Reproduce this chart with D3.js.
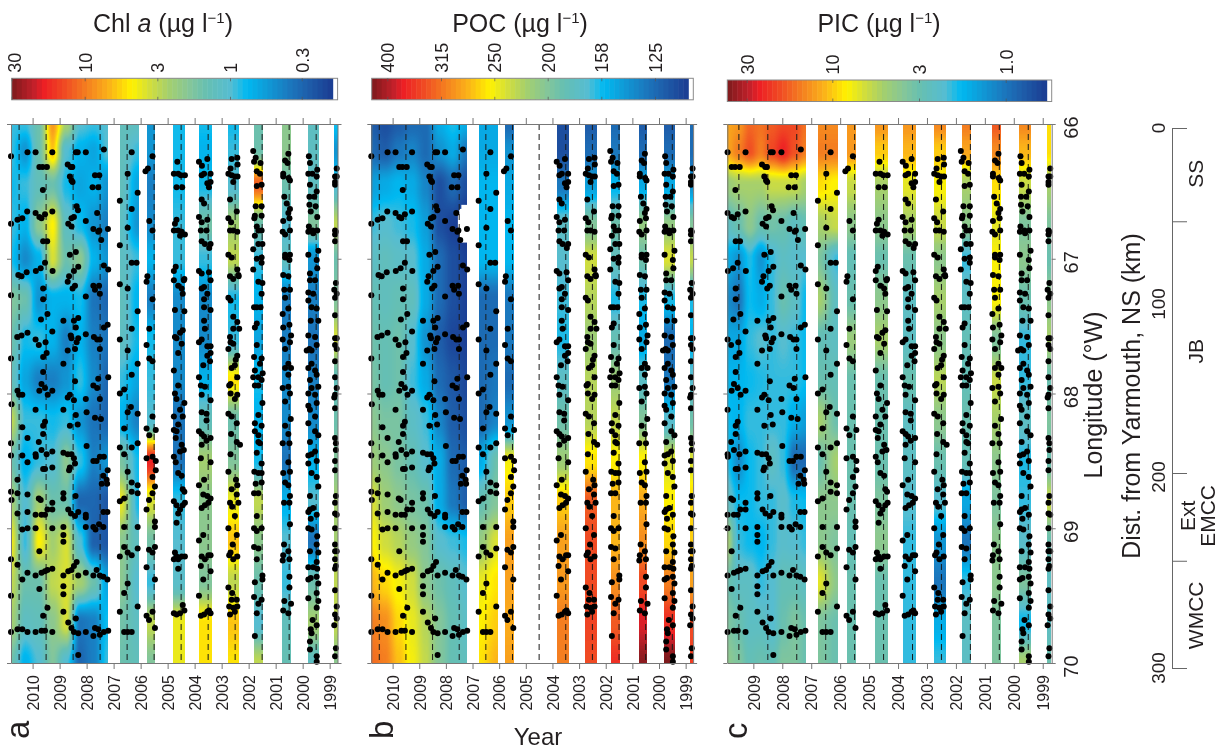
<!DOCTYPE html>
<html>
<head>
<meta charset="utf-8">
<script src="https://cdn.jsdelivr.net/npm/d3@7"></script>
<style>
body { margin: 0; background: #fff; }
#wrap { position: relative; width: 1224px; height: 753px; overflow: hidden; }
canvas, svg { position: absolute; left: 0; top: 0; }
text { font-family: "Liberation Sans", Arial, sans-serif; fill: #231f20; }
</style>
</head>
<body>
<div id="wrap"></div>
<script>
// cruise blocks, in decimal years (reversed time axis)
const cruiseStart = [2010.8, 2006.76, 2005.77, 2004.8, 2003.84, 2002.76, 2001.8, 2000.76, 1999.81, 1998.85]
const cruiseEnd = [2007.19, 2006.06, 2005.45, 2004.34, 2003.37, 2002.34, 2001.47, 2000.44, 1999.39, 1998.71]
const yearTicks = [2010, 2009, 2008, 2007, 2006, 2005, 2004, 2003, 2002, 2001, 2000, 1999]
const dashYears = [2010.5, 2009.5, 2008.5, 2007.5, 2006.5, 2005.5, 2004.5, 2003.5, 2002.5, 2001.5, 2000.5, 1999.5]
const lonTicks = [66, 67, 68, 69, 70]
const lonNodes = [66, 66.2, 66.45, 66.75, 67, 67.3, 67.6, 67.9, 68.2, 68.5, 68.8, 69.1, 69.4, 69.7, 70]

// colour bar
const paletteStops = [0, .07, .10, .17, .23, .30, .374, .43, .49, .555, .607, .68, .732, .795, .857, .92, 1]
const paletteColors = ['#7d1a1c', '#c4202a', '#ed1f24', '#f04e23', '#f47d20', '#fbb01a', '#fff200', '#d2de3b', '#a3cf6f', '#84c69a', '#66bfb2', '#56bdd1', '#00b9f1', '#0f9bd7', '#1a7cc1', '#1e5fab', '#1b3b92']

const chlTicks = [30, 10, 3, 1, 0.3]
const chlTickLabels = ['30', '10', '3', '1', '0.3']
const pocTicks = [400, 315, 250, 200, 158, 125]
const pocTickLabels = ['400', '315', '250', '200', '158', '125']
const picTicks = [30, 10, 3, 1]
const picTickLabels = ['30', '10', '3', '1.0']

// concentration along lonNodes; each cruise holds one or more columns spaced evenly across it
const chlField = [
  [[.9,.9,.8,.9,.8,1.8,1.5,1.3,3,1.5,2.5,4,3,2.5,1.5],
   [.9,.5,.9,.7,.45,1.5,.8,.6,.9,.7,1,.9,1.5,1.2,.7],
   [1.5,1.5,1.3,2,.7,.5,.9,.4,.9,.9,2.5,4.5,1.5,1.3,1],
   [8,6,1.5,4.5,3.5,.7,.7,.4,.8,1,1.5,2.5,3,2,1.8],
   [2.5,1,.8,1.2,1.5,.7,.4,.5,.9,2,1.5,3.5,3.5,3.5,1],
   [1,.7,.6,.8,2,.8,.7,.9,.5,.9,.3,1,2.5,.35,.3],
   [.9,.6,.7,.5,.7,.35,.4,.45,.35,.4,.3,.28,1.5,.4,.4],
   [1,1,.5,.4,.5,.3,.35,.3,.3,.5,.25,.25,.6,.8,.9]],
  [[1.3,1.3,1.3,1.2,1.2,1.3,1.2,.9,.7,1.7,4,2,2,1.6,1.5],
   [1.2,.9,.6,.5,.9,.7,.8,.6,.4,.8,.8,1.2,1,1.2,1.3]],
  [[.5,.5,.4,.45,.7,.4,.8,.9,1,18,3.5,1.6,.9,3,1.8]],
  [[.8,.8,.8,.9,.9,.45,.45,.45,.35,.35,.9,1,1.1,4,4]],
  [[.8,.7,.8,1.6,.9,.45,.45,.7,1.3,2.5,2,2,1.8,5,5]],
  [[.8,.9,1,2.5,3,.8,.9,5,1.5,1.8,4,6,3,6,5]],
  [[1.5,1.5,12,1.5,.9,.7,.6,.8,.7,.8,3,2,1.5,1,3]],
  [[2,2,1.5,1,1.2,.4,.4,.45,.45,.35,.7,1,.9,1.3,1.4]],
  [[1.2,1.2,1.2,1.8,.5,.4,.35,.4,.45,.7,1,.35,1.5,2.5,1.2]],
  [[.8,.5,1,3,1.5,1.8,3.5,1.3,1.5,1.8,2.5,2.5,3,3,2]]
]
const pocField = [
  [[120,125,145,165,175,185,190,195,205,215,240,255,280,310,320],
   [115,120,150,170,180,180,185,185,195,205,215,235,265,300,310],
   [120,130,155,165,175,185,190,190,195,195,205,225,250,265,275],
   [125,135,150,160,170,180,170,165,175,185,195,210,235,245,250],
   [125,125,135,145,150,150,140,150,165,170,190,200,205,225,230],
   [150,140,115,115,125,125,120,125,135,150,150,170,190,200,200],
   [160,150,125,110,115,115,112,118,120,125,130,165,180,185,185],
   [150,130,115,105,110,110,110,112,115,120,120,160,170,175,180]],
  [[150,150,155,155,155,125,125,125,125,150,185,210,245,255,260],
   [150,150,155,155,155,125,125,130,135,190,200,240,260,270,280]],
  [[125,140,150,155,155,130,130,125,140,250,270,290,290,285,290]],
  null,
  [[115,115,130,175,170,165,160,175,190,215,270,290,295,310,310]],
  [[120,125,145,200,235,225,215,225,225,260,330,340,340,345,340]],
  [[125,130,155,190,180,160,185,215,230,255,280,280,300,330,360]],
  [[120,125,150,210,190,160,150,175,200,255,285,300,340,380,420]],
  [[120,125,150,210,240,160,125,130,170,240,255,265,310,360,430]],
  [[125,125,140,200,230,160,155,170,190,240,265,270,290,340,350]]
]
const picField = [
  [[12,12,4.5,2.5,1.6,1.2,1.5,1.7,1.8,1.9,2.5,5,3,3.5,4],
   [13,15,5,3,1.3,1,1.5,1.7,1.7,1.2,1.8,2,2.5,3,3.5],
   [17,19,5,4,1.9,1.8,2,1.8,2,1.8,1.8,1.8,2.5,2.5,2.8],
   [16,15,5,3,1.3,1.6,2.2,1.9,2,2,2,1.7,2,2.5,3],
   [18,20,6,3.2,2,2,2,2,2,2.5,2,2,2.2,2.2,2.8],
   [20,25,6,3,2.5,3,2.2,2,2,2,2.3,2.3,2.8,3,3.5],
   [20,19,6,2.5,2.3,2.5,2,2,1.6,.9,1.9,2.2,2.8,3.5,3.5],
   [16,15,5,2.8,2.2,1.8,1.8,1.8,1.4,.9,1.8,2,2.5,3,3]],
  [[14,15,9,5,3.5,5,2.8,3,5,3,4,4,7,3.5,3.5],
   [14,15,8,6,2,2.5,2.5,2.8,3,5,4,3.5,4,3,3]],
  [[13,13,6,4,2.8,3,4.5,3,3,3,3,2.8,3,3,3]],
  [[13,10,5,4,3,4,5,3,3,3,3.5,4,3,3,3]],
  [[13,11,7,5,3,2.5,2.5,3,2.5,2.5,2.2,2,2,2,2]],
  [[14,10,8,6,4,5,4,5.5,4,3,2.2,1.3,1,1.6,2]],
  [[15,12,5,4,2,2.5,2.8,2.8,3,2.8,1.5,1,2,2.5,2.5]],
  [[18,14,9,7,8,8,3.5,6,5,4,3.5,4,4,3.5,3.5]],
  [[14,11,6,3.5,4,3,2,2,2.5,1.9,2,2.3,3.5,1.8,5]],
  [[9,9,5,3.5,3,4,5,3,3.5,3,6,3,2.5,2.5,3]]
]
// patch of the POC section with no data: [yearFrom, yearTo, lonFrom, lonTo]
const pocGaps = [[2007.55, 2007.2, 66.67, 66.8], [2007.42, 2007.2, 66.6, 66.88], [2007.5, 2007.3, 66.63, 66.85]]

// stations as flat pairs: years after the base year, longitude
const stationsFrom2007 = [3.80,66.24,3.19,66.21,2.89,66.21,2.27,66.21,1.40,66.21,1.33,66.21,1.03,66.21,.36,66.19,2.75,66.32,2.63,66.32,2.47,66.32,1.70,66.30,1.59,66.32,1.53,66.32,1.62,66.39,1.56,66.42,1.52,66.43,.69,66.38,.53,66.38,.78,66.47,.57,66.47,2.62,66.49,1.37,66.61,1.32,66.64,.61,66.66,3.20,66.65,2.89,66.66,2.75,66.69,2.67,66.70,2.54,66.67,2.27,66.65,3.38,66.70,3.56,66.71,3.80,66.74,1.56,66.70,1.47,66.69,1.68,66.74,1.56,66.76,1.03,66.72,.75,66.78,.53,66.79,.21,66.78,.57,66.80,.46,66.86,2.61,66.87,2.46,66.87,1.40,66.95,1.62,66.97,2.54,67.03,1.31,67.06,1.47,67.09,2.88,67.09,2.70,67.07,3.22,67.10,3.53,67.12,3.41,67.13,1.65,67.13,.36,67.05,.20,67.08,2.26,67.09,
1.70,67.17,1.43,67.20,1.52,67.22,.75,67.20,.54,67.20,.69,67.23,.51,67.26,2.61,67.22,2.61,67.30,1.03,67.28,3.80,67.27,2.45,67.41,2.69,67.45,1.86,67.46,1.31,67.44,1.47,67.46,1.40,67.51,.22,67.49,.36,67.51,2.27,67.54,1.59,67.57,1.56,67.59,1.03,67.56,3.57,67.58,3.41,67.57,3.19,67.55,2.89,67.60,2.77,67.64,2.52,67.62,1.31,67.59,1.37,67.62,1.43,67.67,1.70,67.68,.73,67.58,.61,67.60,.51,67.60,.51,67.67,2.48,67.70,2.61,67.73,1.86,67.78,3.80,67.74,2.61,67.84,2.67,67.93,1.43,67.91,.57,67.89,.20,67.88,.75,67.94,.61,67.96,3.56,67.98,2.75,67.98,2.54,67.96,2.27,67.98,2.44,68.01,3.50,68.01,3.38,68.01,1.62,68.01,1.70,68.03,1.47,68.05,1.03,68.04,.51,68.04,3.78,68.08,2.89,68.12,1.86,68.12,1.00,68.14,1.40,68.16,.69,68.18,.47,68.19,2.54,68.21,2.61,68.24,1.62,68.24,1.33,68.23,2.61,68.30,3.38,68.25,3.19,68.33,2.77,68.36,3.80,68.37,2.67,68.42,2.89,68.45,2.27,68.43,1.86,68.44,2.48,68.45,3.38,68.46,3.80,68.46,1.70,68.45,1.56,68.45,1.47,68.48,3.19,68.51,2.88,68.47,1.00,68.39,.75,68.50,.63,68.50,.51,68.47,.36,68.47,1.43,68.52,1.62,68.55,1.65,68.57,2.61,68.56,2.54,68.56,2.27,68.55,.22,68.57,.38,68.61,.26,68.64,3.56,68.64,.44,68.67,.24,68.67,
3.80,68.73,3.56,68.74,3.78,68.79,3.19,68.75,2.77,68.78,2.70,68.79,2.27,68.81,1.86,68.74,1.86,68.78,1.41,68.76,3.56,68.89,3.19,68.88,2.89,68.90,2.67,68.90,2.54,68.90,2.45,68.86,2.27,68.86,1.68,68.86,1.58,68.89,1.43,68.91,1.31,68.88,1.03,68.90,1.03,68.92,.23,68.88,.38,68.88,3.38,69.01,3.19,69.00,2.89,69.00,2.27,69.00,1.86,68.99,1.86,69.05,1.86,69.10,.75,68.99,.67,69.01,.54,68.97,1.03,68.99,.38,68.99,2.75,69.17,3.80,69.23,3.56,69.27,3.19,69.33,2.89,69.35,2.67,69.33,2.54,69.32,2.45,69.31,2.27,69.30,1.86,69.35,1.68,69.32,1.56,69.31,1.47,69.28,1.37,69.25,1.31,69.35,1.03,69.33,.75,69.35,.63,69.31,.51,69.35,.38,69.36,.23,69.38,3.38,69.38,2.75,69.45,1.86,69.43,1.86,69.49,3.80,69.50,2.45,69.59,1.86,69.62,2.61,69.65,1.40,69.67,1.68,69.70,1.56,69.74,1.47,69.77,1.31,69.78,3.80,69.77,3.56,69.75,3.38,69.75,3.19,69.77,2.89,69.77,2.67,69.76,2.54,69.76,2.27,69.77,1.03,69.77,.69,69.74,.57,69.75,.51,69.79,.36,69.77,.20,69.76,.75,69.80,1.31,69.94]
const stationsFrom2006 = [.33,66.21,.48,66.37,.11,66.51,.77,66.57,.33,66.63,.48,66.77,.77,66.90,.33,67.03,.15,67.03,.77,67.19,.48,67.22,.11,67.39,.33,67.52,.77,67.60,.48,67.68,.11,67.78,.33,67.86,.61,67.97,.77,68.00,.36,68.10,.48,68.14,.11,68.15,.61,68.26,.11,68.37,.33,68.40,.77,68.40,.61,68.45,.48,68.58,.33,68.66,.11,68.68,.77,68.80,.61,68.78,.33,68.73,.11,68.74,.11,68.99,.61,68.99,.61,69.14,.11,69.15,.77,69.21,.48,69.18,.33,69.20,.48,69.41,.61,69.48,.11,69.58,.77,69.62,.61,69.77,.48,69.77,.33,69.77]
const stationsFrom2005 = [.56,66.24,.82,66.35,.73,66.33,.68,66.72,.56,66.79,.75,67.13,.78,67.17,.56,67.30,.68,67.52,.78,67.64,.68,67.74,.56,67.76,.56,68.17,.78,68.26,.44,68.27,.68,68.31,.56,68.47,.78,68.48,.44,68.50,.44,68.57,.56,68.62,.56,68.74,.47,68.69,.69,68.79,.78,68.86,.47,68.95,.47,68.99,.69,69.16,.56,69.18,.47,69.14,.78,69.29,.47,69.38,.78,69.65,.69,69.68,.56,69.62,.47,69.74]
const stationsFrom2004 = [.64,66.28,.77,66.37,.61,66.37,.51,66.38,.36,66.38,.67,66.47,.46,66.47,.67,66.71,.73,66.74,.77,66.79,.61,66.79,.48,66.80,.36,66.82,.54,66.83,.70,67.06,.77,67.09,.38,67.15,.77,67.16,.40,67.16,.61,67.20,.48,67.22,.44,67.26,.73,67.38,.38,67.39,.44,67.53,.54,67.55,.73,67.58,.67,67.59,.48,67.63,.61,67.70,.77,67.83,.61,67.94,.73,68.00,.67,68.04,.38,68.07,.77,68.17,.54,68.12,.44,68.17,.61,68.23,.77,68.27,.67,68.28,.70,68.33,.48,68.38,.54,68.43,.40,68.42,.77,68.47,.70,68.51,.61,68.59,.48,68.61,.77,68.80,.67,68.83,.44,68.83,.36,68.81,.54,68.86,.61,68.89,.38,68.73,.44,68.71,.67,68.96,.73,69.18,.67,69.21,.77,69.23,.61,69.23,.48,69.21,.36,69.21,.61,69.30,.77,69.63,.67,69.64,.54,69.63,.38,69.61,.44,69.57]
const stationsFrom2003 = [.84,66.28,.53,66.26,.73,66.31,.65,66.37,.74,66.38,.41,66.37,.53,66.44,.41,66.43,.47,66.47,.74,66.56,.65,66.59,.84,66.69,.53,66.71,.74,66.73,.77,66.79,.56,66.79,.74,66.87,.62,66.89,.41,66.89,.46,66.92,.84,67.09,.74,67.11,.47,67.10,.41,67.16,.65,67.21,.74,67.22,.53,67.26,.65,67.30,.65,67.36,.41,67.38,.65,67.46,.62,67.52,.84,67.62,.74,67.60,.53,67.65,.41,67.65,.53,67.72,.41,67.70,.43,67.76,.68,67.79,.84,67.88,.77,67.94,.62,67.95,.74,68.01,.41,68.05,.74,68.14,.56,68.15,.56,68.20,.84,68.28,.74,68.30,.65,68.32,.41,68.33,.56,68.35,.74,68.38,.77,68.48,.41,68.51,.65,68.64,.84,68.68,.68,68.75,.53,68.76,.41,68.78,.74,68.85,.62,68.83,.49,68.81,.84,69.09,.68,69.05,.74,69.21,.62,69.23,.49,69.20,.41,69.20,.77,69.28,.41,69.32,.68,69.38,.84,69.50,.77,69.65,.65,69.64,.53,69.62,.41,69.63,.47,69.61]
const stationsFrom2002 = [.63,66.26,.42,66.25,.41,66.30,.67,66.33,.75,66.37,.63,66.38,.51,66.39,.41,66.39,.57,66.43,.69,66.56,.44,66.65,.75,66.70,.65,66.73,.69,66.79,.57,66.79,.42,66.80,.75,66.97,.63,66.99,.42,67.08,.69,67.13,.38,67.12,.57,67.15,.37,67.13,.75,67.29,.67,67.31,.57,67.43,.42,67.47,.57,67.52,.35,67.52,.69,67.58,.67,67.62,.57,67.63,.75,67.67,.42,67.72,.48,67.75,.51,67.79,.63,67.81,.42,67.88,.67,67.93,.72,67.94,.67,68.00,.42,68.01,.51,68.04,.75,68.15,.63,68.17,.44,68.22,.65,68.30,.32,68.38,.44,68.36,.67,68.45,.75,68.58,.47,68.64,.42,68.68,.63,68.71,.44,68.75,.69,68.81,.38,68.81,.61,68.84,.51,68.91,.75,69.00,.44,69.05,.59,69.12,.72,69.20,.57,69.23,.42,69.21,.67,69.18,.75,69.44,.61,69.48,.44,69.53,.63,69.53,.72,69.58,.57,69.59,.42,69.58,.69,69.64,.51,69.62]
const stationsFrom2001 = [.83,66.20,.74,66.25,.80,66.28,.56,66.29,.70,66.35,.58,66.37,.52,66.45,.70,66.46,.74,66.61,.52,66.61,.77,66.68,.52,66.68,.79,66.70,.70,66.76,.52,66.79,.64,66.79,.77,66.83,.64,66.89,.49,66.89,.83,66.93,.70,67.00,.52,66.99,.52,67.03,.83,67.08,.64,67.17,.49,67.18,.52,67.26,.80,67.36,.70,67.36,.56,67.36,.77,67.51,.70,67.48,.70,67.64,.80,67.73,.52,67.74,.58,67.78,.77,67.83,.48,67.85,.64,67.88,.83,67.88,.52,67.90,.64,67.94,.77,67.94,.49,68.07,.64,68.16,.77,68.22,.52,68.24,.77,68.28,.64,68.31,.64,68.36,.58,68.37,.70,68.44,.52,68.52,.52,68.59,.79,68.58,.64,68.59,.74,68.67,.52,68.66,.64,68.74,.80,68.74,.70,68.91,.80,69.00,.52,69.00,.70,69.02,.80,69.14,.64,69.15,.70,69.23,.49,69.35,.49,69.38,.77,69.40,.80,69.51,.52,69.53,.64,69.56,.70,69.63,.77,69.80]
const stationsFrom2000 = [.53,66.22,.65,66.27,.56,66.29,.72,66.37,.72,66.39,.52,66.40,.47,66.42,.68,66.54,.59,66.59,.47,66.63,.53,66.66,.72,66.72,.49,66.70,.74,66.80,.65,66.82,.47,66.79,.65,66.97,.47,66.97,.49,67.01,.65,66.99,.72,67.12,.53,67.13,.68,67.23,.47,67.23,.65,67.29,.74,67.41,.53,67.37,.72,67.51,.49,67.49,.43,67.57,.74,67.60,.47,67.62,.65,67.67,.53,67.78,.65,67.81,.43,67.81,.53,67.86,.74,67.96,.53,67.95,.47,68.00,.65,68.06,.44,68.19,.65,68.24,.74,68.37,.53,68.30,.49,68.37,.53,68.51,.47,68.58,.72,68.59,.65,68.66,.53,68.68,.47,68.76,.69,68.81,.49,68.81,.47,68.97,.69,69.12,.72,69.20,.53,69.17,.49,69.23,.74,69.24,.49,69.36,.49,69.44,.68,69.54,.43,69.56,.72,69.61,.53,69.63]
const stationsFrom1999 = [.77,66.24,.73,66.29,.79,66.37,.64,66.37,.46,66.34,.48,66.39,.73,66.45,.48,66.50,.75,66.54,.57,66.54,.75,66.60,.52,66.61,.70,66.65,.46,66.69,.77,66.76,.63,66.79,.79,66.80,.61,66.81,.46,66.79,.42,66.94,.79,66.97,.48,67.01,.46,67.07,.73,67.11,.73,67.16,.54,67.16,.79,67.25,.61,67.26,.79,67.31,.67,67.36,.48,67.37,.70,67.46,.42,67.46,.79,67.57,.54,67.58,.48,67.64,.75,67.67,.85,67.68,.67,67.68,.79,67.81,.67,67.78,.54,67.83,.48,67.86,.73,67.90,.67,67.96,.42,67.95,.79,68.00,.54,68.01,.79,68.09,.48,68.07,.73,68.12,.54,68.17,.79,68.22,.54,68.28,.42,68.31,.73,68.36,.54,68.43,.79,68.46,.67,68.45,.48,68.50,.79,68.52,.67,68.59,.48,68.62,.42,68.69,.73,68.76,.73,68.86,.79,68.88,.61,68.85,.70,68.93,.48,68.90,.79,69.00,.67,69.01,.46,69.06,.48,69.12,.73,69.17,.42,69.18,.48,69.25,.79,69.29,.61,69.29,.46,69.30,.70,69.37,.79,69.38,.48,69.36,.42,69.41,.79,69.52,.48,69.48,.42,69.54,.48,69.59,.63,69.68,.48,69.72,.70,69.75,.67,69.78,.73,69.84,.73,69.90,.48,69.95,.48,69.99]
const stationsFrom1998 = [.74,66.33,.80,66.39,.74,66.39,.80,66.43,.80,66.45,.80,66.79,.80,66.82,.77,66.80,.80,66.87,.77,67.18,.83,67.23,.74,67.26,.80,67.29,.80,67.42,.80,67.59,.74,67.59,.80,67.64,.74,67.67,.80,67.76,.80,67.88,.74,67.96,.80,68.01,.83,68.03,.80,68.11,.80,68.33,.77,68.37,.77,68.42,.80,68.50,.80,68.57,.77,68.76,.80,68.81,.80,68.89,.74,68.90,.80,69.00,.80,69.12,.80,69.17,.74,69.17,.80,69.23,.77,69.28,.80,69.30,.80,69.46,.74,69.58,.80,69.64,.74,69.67,.83,69.72,.77,69.89,.80,69.95]
const stationBases = [2007, 2006, 2005, 2004, 2003, 2002, 2001, 2000, 1999, 1998]
const stationLists = [stationsFrom2007, stationsFrom2006, stationsFrom2005, stationsFrom2004, stationsFrom2003, stationsFrom2002, stationsFrom2001, stationsFrom2000, stationsFrom1999, stationsFrom1998]

// right hand distance axis
const distKm = [0, 100, 200, 300]
const distBoundaries = [0, 53, 200, 245, 300]
const regionNames = [['SS', 26, 0], ['JB', 128, 0], ['Ext', 222, -8], ['EMCC', 222, 12], ['WMCC', 273, 0]]

const width = 1224, height = 753
const plotTop = 124, plotBottom = 663

const stations = []
stationLists.forEach((list, i) => {
  for (let k = 0; k < list.length; k += 2) stations.push({year: stationBases[i] + list[k], lon: list[k + 1], cruise: i})
})

const palette = d3.scaleLinear().domain(paletteStops).range(paletteColors).clamp(true)
const lut = d3.range(256).map(i => d3.rgb(palette(i / 255)))

const lonScale = d3.scaleLinear().domain([66, 70]).range([plotTop, plotBottom])

const panels = [
  {letter: 'a', title: 'Chl ', italic: 'a', field: chlField, years: [2010.8, 1998.71], range: [11, 337.5],
   ticks: chlTicks, labels: chlTickLabels, tickPos: [11.7, 84.7, 157.3, 230, 301.7], bar: [11.7, 332.7, 337.6], barY: 78.3,
   titleX: 163, letterX: 29, skipCruise: null},
  {letter: 'b', title: 'POC', italic: '', field: pocField, years: [2010.8, 1998.72], range: [371.3, 693.1],
   ticks: pocTicks, labels: pocTickLabels, tickPos: [387.3, 441, 494.3, 547.7, 601.3, 655], bar: [371.7, 688.3, 693.3], barY: 78.3,
   titleX: 520, letterX: 393, skipCruise: 3},
  {letter: 'c', title: 'PIC', italic: '', field: picField, years: [2009.9, 1998.69], range: [727.3, 1051.7],
   ticks: picTicks, labels: picTickLabels, tickPos: [746.7, 832.3, 919, 1005.7], bar: [727.3, 1046.7, 1051.7], barY: 80,
   titleX: 879, letterX: 747, skipCruise: null}
]

const wrap = d3.select('#wrap')
const canvas = wrap.append('canvas').attr('width', width).attr('height', height)
const ctx = canvas.node().getContext('2d')
const img = ctx.createImageData(width, height)
img.data.fill(255)

const svg = wrap.append('svg').attr('width', width).attr('height', height)

function smooth(u) { return u * u * (3 - 2 * u) }

// paint one panel's section into the shared image, colour bar position is what gets interpolated
function paintField(p, xScale, toT) {
  p.field.forEach((columns, i) => {
    if (!columns) return
    const from = Math.max(cruiseEnd[i], p.years[1])
    const to = Math.min(cruiseStart[i], p.years[0])
    const x0 = Math.round(xScale(to)), x1 = Math.round(xScale(from))
    const cols = columns.map(c => c.map(toT))
    for (let px = x0; px < x1; px++) {
      const cu = cols.length > 1 ? (px - x0) / (x1 - x0 - 1) * (cols.length - 1) : 0
      const c0 = Math.min(Math.floor(cu), cols.length - 1)
      const c1 = Math.min(c0 + 1, cols.length - 1)
      const cf = smooth(cu - c0)
      for (let py = plotTop; py < plotBottom; py++) {
        const lon = lonScale.invert(py + .5)
        const r1 = Math.min(d3.bisectRight(lonNodes, lon), lonNodes.length - 1)
        const r0 = r1 - 1
        const rf = smooth((lon - lonNodes[r0]) / (lonNodes[r1] - lonNodes[r0]))
        const a = cols[c0][r0] + (cols[c0][r1] - cols[c0][r0]) * rf
        const b = cols[c1][r0] + (cols[c1][r1] - cols[c1][r0]) * rf
        const t = a + (b - a) * cf
        const col = lut[Math.max(0, Math.min(255, Math.round(t * 255)))]
        const k = (py * width + px) * 4
        img.data[k] = col.r; img.data[k + 1] = col.g; img.data[k + 2] = col.b
      }
    }
  })
}

function vertical(sel, x, y, anchor) {
  return sel.attr('transform', `translate(${x},${y}) rotate(-90)`).attr('text-anchor', anchor)
}

panels.forEach(p => {
  const xScale = d3.scaleLinear().domain(p.years).range(p.range)
  const barScale = d3.scaleLog().domain(p.ticks).range(p.tickPos)
  const toT = v => (barScale(v) - p.bar[0]) / (p.bar[1] - p.bar[0])
  paintField(p, xScale, toT)

  const g = svg.append('g')

  // colour bar
  const levels = d3.range(64)
  const barH = 21.5
  const levelX = d3.scaleLinear().domain([0, 64]).range([p.bar[0], p.bar[1]])
  g.append('g').selectAll('rect').data(levels).join('rect')
    .attr('x', d => levelX(d))
    .attr('y', p.barY)
    .attr('width', d => levelX(d + 1) - levelX(d) + .5)
    .attr('height', barH)
    .attr('fill', d => palette((d + .5) / 64))
  g.append('rect')
    .attr('x', p.bar[0]).attr('y', p.barY)
    .attr('width', p.bar[2] - p.bar[0]).attr('height', barH)
    .attr('fill', 'none').attr('stroke', '#8a8a8a').attr('stroke-width', 1)

  const barTop = d3.axisTop(barScale).tickValues(p.ticks).tickSize(-3).tickFormat((d, i) => p.labels[i])
  const barTopG = g.append('g').attr('transform', `translate(0,${p.barY})`).call(barTop)
  barTopG.select('.domain').remove()
  barTopG.selectAll('line').attr('stroke', '#555').attr('stroke-width', .7)
  barTopG.selectAll('text').attr('x', null).attr('y', null).attr('dy', '.36em')
    .attr('font-size', 18).attr('font-family', null)
    .attr('transform', d => `translate(${barScale(d) > p.bar[0] + 5 ? 0 : 2},${-5.5}) rotate(-90)`)
    .attr('text-anchor', 'start')
  const barBottom = d3.axisBottom(barScale).tickValues(p.ticks).tickSize(-3).tickFormat('')
  const barBottomG = g.append('g').attr('transform', `translate(0,${p.barY + barH})`).call(barBottom)
  barBottomG.select('.domain').remove()
  barBottomG.selectAll('line').attr('stroke', '#555').attr('stroke-width', .7)

  // title
  const title = g.append('text').attr('x', p.titleX).attr('y', 32).attr('text-anchor', 'middle').attr('font-size', 25)
  title.append('tspan').text(p.title)
  if (p.italic) title.append('tspan').attr('font-style', 'italic').text(p.italic)
  title.append('tspan').text(' (µg l')
  title.append('tspan').attr('font-size', 15).attr('dy', -9).text('−1')
  title.append('tspan').attr('dy', 9).text(')')

  // gap in POC
  if (p.letter === 'b') {
    g.append('g').selectAll('rect').data(pocGaps).join('rect')
      .attr('x', d => xScale(d[0]))
      .attr('y', d => lonScale(d[2]))
      .attr('width', d => xScale(d[1]) - xScale(d[0]) + 1)
      .attr('height', d => lonScale(d[3]) - lonScale(d[2]))
      .attr('fill', '#fff')
  }

  // cruise dates
  g.append('g').selectAll('line').data(dashYears.filter(d => d < p.years[0])).join('line')
    .attr('x1', d => xScale(d)).attr('x2', d => xScale(d))
    .attr('y1', plotTop).attr('y2', plotBottom)
    .attr('stroke', '#1a1a1a').attr('stroke-width', 1).attr('stroke-dasharray', '6 4')

  // stations
  const shown = stations.filter(d => d.cruise !== p.skipCruise && d.year <= p.years[0])
  g.append('g').selectAll('circle').data(shown).join('circle')
    .attr('cx', d => xScale(d.year))
    .attr('cy', d => lonScale(d.lon))
    .attr('r', 3)
    .attr('fill', '#000')

  // axes
  const topAxis = g.append('g').attr('transform', `translate(0,${plotTop})`)
    .call(d3.axisTop(xScale).tickValues(yearTicks.filter(d => d < p.years[0])).tickSize(6).tickSizeOuter(0).tickFormat(''))
  const bottomAxis = g.append('g').attr('transform', `translate(0,${plotBottom})`)
    .call(d3.axisBottom(xScale).tickValues(yearTicks.filter(d => d < p.years[0])).tickSize(6).tickSizeOuter(0).tickFormat(d => d))
  bottomAxis.selectAll('text').attr('x', null).attr('y', null).attr('dy', '.36em')
    .attr('font-size', 16).attr('font-family', null)
    .attr('transform', 'translate(0,12) rotate(-90)')
    .attr('text-anchor', 'end')
  const leftAxis = g.append('g').attr('transform', `translate(${p.range[0]},0)`)
    .call(d3.axisLeft(lonScale).tickValues(lonTicks).tickSize(4).tickSizeOuter(0).tickFormat(''))
  const rightAxis = g.append('g').attr('transform', `translate(${p.range[1]},0)`)
    .call(d3.axisRight(lonScale).tickValues(lonTicks).tickSize(4).tickSizeOuter(0).tickFormat(p.letter === 'c' ? (d => d) : ''))
  ;[topAxis, bottomAxis, leftAxis, rightAxis].forEach(a => {
    a.selectAll('line').attr('stroke', '#777')
    a.select('.domain').attr('stroke', '#777')
  })
  rightAxis.selectAll('text').attr('x', null).attr('y', null).attr('dy', '.36em')
    .attr('font-size', 20).attr('font-family', null)
    .attr('transform', 'translate(19,3) rotate(-90)')
    .attr('text-anchor', 'middle')

  // panel letter
  vertical(g.append('text'), p.letterX, 739, 'start').attr('font-size', 33).text(p.letter)
})

ctx.putImageData(img, 0, 0)

// Year title
svg.append('text').attr('x', 538).attr('y', 745).attr('text-anchor', 'middle').attr('font-size', 24).text('Year')

// longitude and distance titles
vertical(svg.append('text'), 1102, 395, 'middle').attr('font-size', 25).text('Longitude (°W)')
vertical(svg.append('text'), 1140, 396, 'middle').attr('font-size', 25).text('Dist. from Yarmouth, NS (km)')

const distScale = d3.scaleLinear().domain([0, 100, 200, 300]).range([128, 304, 473, 668])
const distG = svg.append('g').attr('transform', 'translate(1172,0)')
  .call(d3.axisRight(distScale).tickValues(distBoundaries).tickSize(15).tickSizeOuter(0).tickFormat(''))
distG.selectAll('line').attr('stroke', '#666')
distG.select('.domain').attr('stroke', '#666')

svg.append('g').selectAll('text').data(distKm).join('text')
  .attr('transform', d => `translate(1165,${distScale(d) + (d === 200 ? 4 : 0)}) rotate(-90)`)
  .attr('text-anchor', 'middle')
  .attr('font-size', 19)
  .text(d => d)

svg.append('g').selectAll('text').data(regionNames).join('text')
  .attr('transform', d => `translate(${1203 + d[2]},${distScale(d[1])}) rotate(-90)`)
  .attr('text-anchor', 'middle')
  .attr('font-size', 21)
  .text(d => d[0])
</script>
</body>
</html>
